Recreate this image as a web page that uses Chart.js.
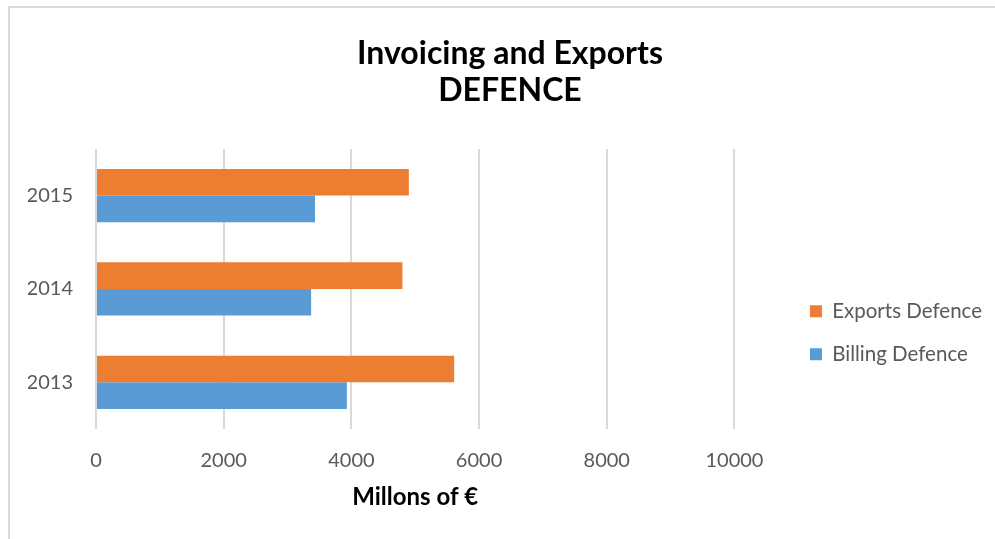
<!DOCTYPE html>
<html>
<head>
<meta charset="utf-8">
<title>Invoicing and Exports DEFENCE</title>
<script src="https://cdn.jsdelivr.net/npm/chart.js@4.4.1/dist/chart.umd.min.js"></script>
<style>
  html, body { margin: 0; padding: 0; background: #ffffff; }
  #wrap { position: relative; width: 995px; height: 539px; overflow: hidden; }
  #frame {
    position: absolute; left: 8px; top: 6px; width: 1200px; height: 800px;
    border-left: 2px solid #d9d9d9; border-top: 2px solid #d9d9d9;
  }
  #chart { position: absolute; left: 0; top: 0; }
</style>
</head>
<body>
<div id="wrap">
  <div id="frame"></div>
  <canvas id="chart" width="995" height="539"></canvas>
</div>
<script>
// Defence invoicing and exports, millions of euro, by year
const years = ['2013', '2014', '2015'];
const exportsDefence = [5610, 4800, 4900];
const billingDefence = [3930, 3370, 3430];
const xTicks = [0, 2000, 4000, 6000, 8000, 10000];

const FONT = 'Lato, "Open Sans", sans-serif';
const GREY_TEXT = '#595959';

new Chart(document.getElementById('chart'), {
  type: 'bar',
  data: {
    labels: years,
    datasets: [
      { label: 'Exports Defence', data: exportsDefence, backgroundColor: '#ED7D31', borderWidth: 0 },
      { label: 'Billing Defence', data: billingDefence, backgroundColor: '#5B9BD5', borderWidth: 0 }
    ]
  },
  options: {
    responsive: false,
    animation: false,
    indexAxis: 'y',
    layout: { padding: { left: 28, right: 3, top: 0, bottom: 0 } },
    datasets: { bar: { categoryPercentage: 0.571, barPercentage: 1 } },
    plugins: {
      tooltip: { enabled: false },
      title: {
        display: true,
        text: ['Invoicing and Exports', 'DEFENCE'],
        color: '#000000',
        font: { family: FONT, size: 32, weight: 'bold', lineHeight: 1.17 },
        padding: { top: 35, bottom: 39 }
      },
      legend: {
        position: 'right',
        // empty heading only pushes the two entries down to mid-height
        title: { display: true, text: ' ', font: { size: 12 }, padding: { top: 112, bottom: 0 } },
        labels: {
          boxWidth: 12, boxHeight: 12, padding: 22.5,
          color: GREY_TEXT,
          font: { family: FONT, size: 20.5 }
        }
      }
    },
    scales: {
      x: {
        min: xTicks[0],
        max: xTicks[xTicks.length - 1],
        afterBuildTicks: (s) => { s.ticks = xTicks.map(v => ({ value: v })); },
        ticks: {
          color: GREY_TEXT,
          font: { family: FONT, size: 20 },
          padding: 20,
          callback: (v) => String(v)
        },
        grid: { color: '#d9d9d9', lineWidth: 2, drawTicks: false },
        border: { display: false },
        title: {
          display: true,
          text: 'Millons of €',
          color: '#000000',
          font: { family: FONT, size: 24, weight: 'bold' },
          padding: { top: 0, bottom: 27 }
        },
        afterFit: (s) => { s.height = 110; }
      },
      y: {
        reverse: true,
        grid: { display: false, drawTicks: false },
        border: { display: false },
        ticks: { color: GREY_TEXT, font: { family: FONT, size: 20 }, padding: 23 },
        afterFit: (s) => { s.width = 68; }
      },
      // hidden strip that keeps the legend clear of the plot
      gap: {
        type: 'category',
        position: 'right',
        display: false,
        afterFit: (s) => { s.width = 53; }
      }
    }
  }
});
</script>
</body>
</html>
